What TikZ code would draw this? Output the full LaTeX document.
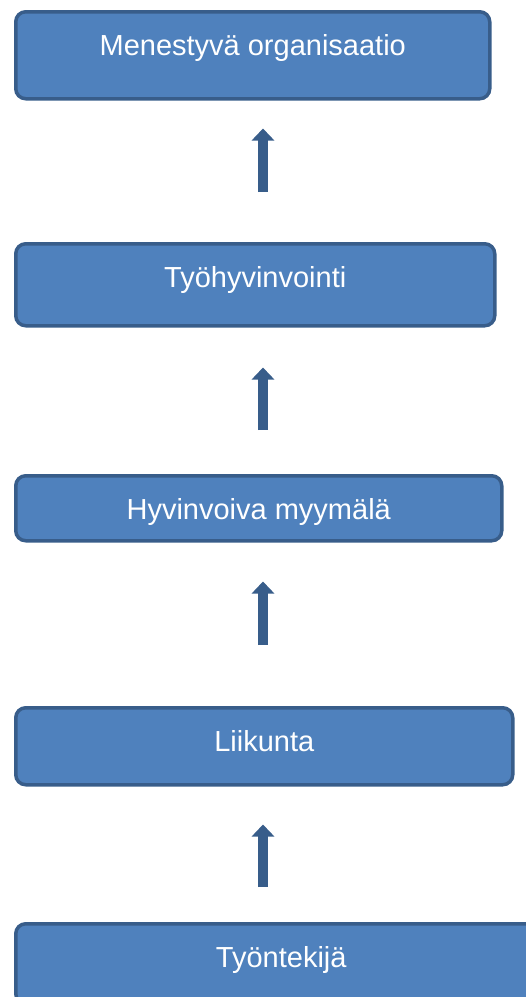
\documentclass[tikz,border=0pt]{standalone}
\usepackage{fontspec}
\setmainfont{Liberation Sans}
\usetikzlibrary{arrows.meta,calc}

\definecolor{lohkofill}{HTML}{4F81BD}
\definecolor{lohkoline}{HTML}{385D8A}

\begin{document}
\begin{tikzpicture}[x=1pt,y=1pt,
    lohko/.style={draw=lohkoline,fill=lohkofill,line width=3.5pt,rounded corners=10pt,
      rectangle,anchor=north west,inner sep=0pt,text=white,text height=44pt,
      font=\fontsize{29}{31}\selectfont},
    nuoli/.style={draw=lohkoline,line width=10.5pt,
      -{Triangle[width=22pt,length=12pt]}}]
  \useasboundingbox (0,0) rectangle (526,-997);
  \clip (0,0) rectangle (526,-997);

  \node[lohko,minimum width=474pt,text depth=43pt] (org) at (14,-10) {Menestyvä organisaatio};
  \node[lohko,minimum width=479pt,text depth=38pt] (tyo) at (14,-242) {Työhyvinvointi};
  \node[lohko,minimum width=486pt,text depth=21pt] (myy) at (14,-474) {Hyvinvoiva myymälä};
  \node[lohko,minimum width=497pt,text depth=33pt] (lii) at (14,-706) {Liikunta};
  \node[lohko,minimum width=531pt,text depth=36pt] (ten) at (14,-922) {Työntekijä};

  \coordinate (ax) at (263,0);

  \draw[nuoli,shorten <=50pt,shorten >=28pt] (tyo.north -| ax) -- (org.south -| ax);
  \draw[nuoli,shorten <=44pt,shorten >=40pt] (myy.north -| ax) -- (tyo.south -| ax);
  \draw[nuoli,shorten <=61pt,shorten >=39pt] (lii.north -| ax) -- (myy.south -| ax);
  \draw[nuoli,shorten <=35pt,shorten >=38pt] (ten.north -| ax) -- (lii.south -| ax);

\end{tikzpicture}
\end{document}
